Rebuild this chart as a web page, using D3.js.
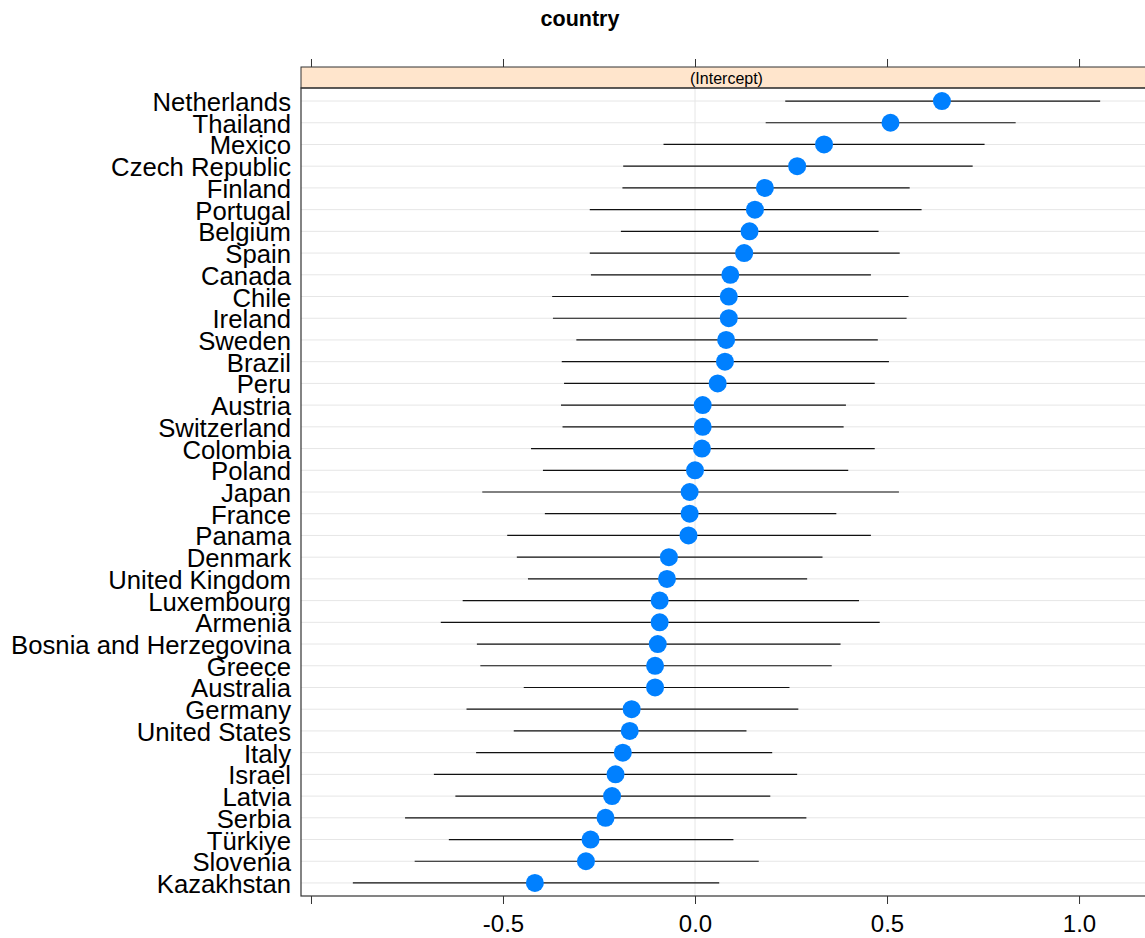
<!DOCTYPE html>
<html>
<head>
<meta charset="utf-8">
<script src="https://cdn.jsdelivr.net/npm/d3@7/dist/d3.min.js"></script>
<style>
  html, body { margin: 0; padding: 0; background: #fff; }
  svg { display: block; }
  text { font-family: "Liberation Sans", Arial, sans-serif; }
</style>
</head>
<body>
<svg id="chart" width="1145" height="938"></svg>
<script>
// Random intercepts by country, with interval bounds (sorted by estimate)
const countries = ["Netherlands","Thailand","Mexico","Czech Republic","Finland","Portugal","Belgium","Spain","Canada","Chile","Ireland","Sweden","Brazil","Peru","Austria","Switzerland","Colombia","Poland","Japan","France","Panama","Denmark","United Kingdom","Luxembourg","Armenia","Bosnia and Herzegovina","Greece","Australia","Germany","United States","Italy","Israel","Latvia","Serbia","Türkiye","Slovenia","Kazakhstan"];
const estimate = [0.643,0.509,0.336,0.266,0.182,0.156,0.142,0.128,0.092,0.088,0.088,0.081,0.078,0.059,0.020,0.020,0.018,0.000,-0.014,-0.014,-0.017,-0.068,-0.073,-0.092,-0.092,-0.097,-0.104,-0.104,-0.165,-0.170,-0.188,-0.207,-0.216,-0.233,-0.272,-0.284,-0.417];
const lower = [0.235,0.184,-0.082,-0.187,-0.189,-0.274,-0.193,-0.274,-0.271,-0.372,-0.370,-0.309,-0.347,-0.341,-0.349,-0.345,-0.427,-0.396,-0.554,-0.391,-0.489,-0.464,-0.435,-0.605,-0.662,-0.568,-0.559,-0.446,-0.595,-0.472,-0.570,-0.680,-0.624,-0.755,-0.641,-0.730,-0.891];
const upper = [1.055,0.835,0.754,0.723,0.559,0.590,0.478,0.533,0.458,0.556,0.551,0.476,0.505,0.468,0.393,0.387,0.468,0.399,0.531,0.368,0.458,0.332,0.292,0.427,0.481,0.379,0.356,0.246,0.269,0.134,0.201,0.266,0.196,0.290,0.100,0.166,0.063];
const tickValues = [-1.0, -0.5, 0.0, 0.5, 1.0];
const tickLabels = ["", "-0.5", "0.0", "0.5", "1.0"];
const title = "country";
const stripLabel = "(Intercept)";

const rows = countries.map((c, i) => ({ country: c, est: estimate[i], lo: lower[i], hi: upper[i] }));

const svg = d3.select("#chart");
const panel = { left: 301, right: 1152, top: 88, bottom: 896, stripTop: 67 };

const x = d3.scaleLinear().domain([-1.026, 1.19]).range([panel.left, panel.right]);
const y = d3.scalePoint().domain(countries).range([panel.top, panel.bottom]).padding(0.6);

// Title
svg.append("text")
  .attr("x", 580).attr("y", 26)
  .attr("text-anchor", "middle")
  .attr("font-size", 21.5).attr("font-weight", "bold")
  .attr("fill", "#000")
  .text(title);

// Horizontal guide lines per country
svg.append("g").selectAll("line").data(rows).join("line")
  .attr("x1", panel.left).attr("x2", panel.right)
  .attr("y1", d => y(d.country)).attr("y2", d => y(d.country))
  .attr("stroke", "#e6e6e6").attr("stroke-width", 1);

// Reference line at zero
svg.append("line")
  .attr("x1", x(0)).attr("x2", x(0))
  .attr("y1", panel.top).attr("y2", panel.bottom)
  .attr("stroke", "#e6e6e6").attr("stroke-width", 1);

// Interval segments
svg.append("g").selectAll("line").data(rows).join("line")
  .attr("x1", d => x(d.lo)).attr("x2", d => x(d.hi))
  .attr("y1", d => y(d.country)).attr("y2", d => y(d.country))
  .attr("stroke", "#111").attr("stroke-width", 1.2);

// Point estimates
svg.append("g").selectAll("circle").data(rows).join("circle")
  .attr("cx", d => x(d.est)).attr("cy", d => y(d.country))
  .attr("r", 9)
  .attr("fill", "#0080ff");

// Strip
svg.append("rect")
  .attr("x", panel.left).attr("y", panel.stripTop)
  .attr("width", panel.right - panel.left).attr("height", panel.top - panel.stripTop)
  .attr("fill", "#ffe5cc").attr("stroke", "#333").attr("stroke-width", 1);
svg.append("text")
  .attr("x", (panel.left + panel.right) / 2).attr("y", 84)
  .attr("text-anchor", "middle")
  .attr("font-size", 16).attr("fill", "#000")
  .text(stripLabel);

// Panel border
svg.append("rect")
  .attr("x", panel.left).attr("y", panel.top)
  .attr("width", panel.right - panel.left).attr("height", panel.bottom - panel.top)
  .attr("fill", "none").attr("stroke", "#333").attr("stroke-width", 1.2);

// Bottom axis
const bottomAxis = d3.axisBottom(x).tickValues(tickValues)
  .tickFormat((d, i) => tickLabels[i]).tickSize(8).tickPadding(11);
const gb = svg.append("g").attr("transform", `translate(0,${panel.bottom})`).call(bottomAxis);
gb.select(".domain").remove();
gb.selectAll(".tick line").attr("stroke", "#333");
gb.selectAll(".tick text").attr("font-size", 24).attr("fill", "#000")
  .attr("font-family", "'Liberation Sans', Arial, sans-serif");

// Top axis (ticks only)
const topAxis = d3.axisTop(x).tickValues(tickValues).tickFormat("").tickSize(8);
const gt = svg.append("g").attr("transform", `translate(0,${panel.stripTop})`).call(topAxis);
gt.select(".domain").remove();
gt.selectAll(".tick line").attr("stroke", "#333");

// Country labels
svg.append("g").selectAll("text").data(rows).join("text")
  .attr("x", 291).attr("y", d => y(d.country) + 10)
  .attr("text-anchor", "end")
  .attr("font-size", 25.7).attr("fill", "#000")
  .text(d => d.country);
</script>
</body>
</html>
